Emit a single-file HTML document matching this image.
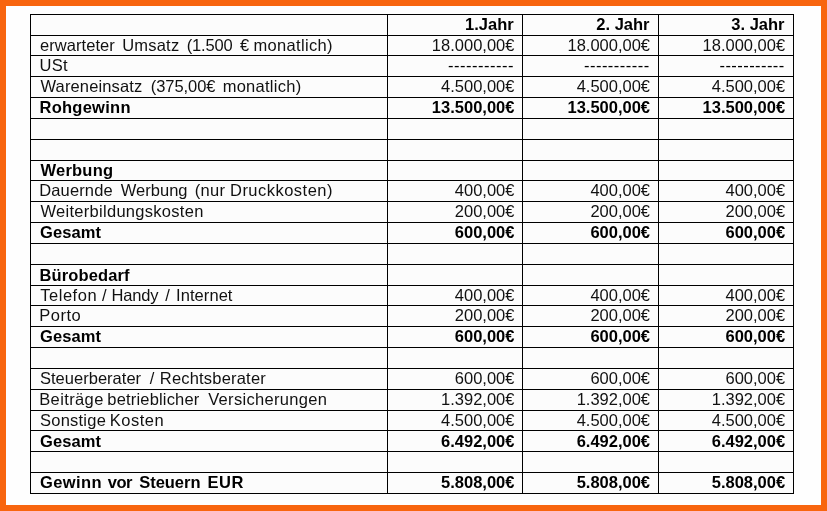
<!DOCTYPE html>
<html lang="de"><head><meta charset="utf-8"><title>Rentabilitätsvorschau</title>
<style>
html,body{margin:0;padding:0}
body{width:827px;height:511px;position:relative;overflow:hidden;background:#f8650f;font-family:"Liberation Sans",sans-serif;}
#paper{position:absolute;left:6px;top:6px;width:815px;height:499px;background:#fefefe}
#tbl{position:absolute;left:30px;top:14px;width:764px;height:480px;background:#fcfcfc}
.h,.v{position:absolute;background:#000}
.h{height:1px;left:30px;width:764px}
.v{width:1px;top:14px;height:480px}
.t{position:absolute;white-space:pre;font-size:16.5px;line-height:20px;height:20px;color:#111;}
.b{font-weight:bold;color:#000}
.d{color:#000}
</style></head><body>
<div id="paper"></div><div id="tbl"></div>

<div class="h" style="top:14px"></div>
<div class="h" style="top:35px"></div>
<div class="h" style="top:55px"></div>
<div class="h" style="top:76px"></div>
<div class="h" style="top:97px"></div>
<div class="h" style="top:118px"></div>
<div class="h" style="top:139px"></div>
<div class="h" style="top:160px"></div>
<div class="h" style="top:180px"></div>
<div class="h" style="top:201px"></div>
<div class="h" style="top:222px"></div>
<div class="h" style="top:243px"></div>
<div class="h" style="top:264px"></div>
<div class="h" style="top:285px"></div>
<div class="h" style="top:305px"></div>
<div class="h" style="top:326px"></div>
<div class="h" style="top:347px"></div>
<div class="h" style="top:368px"></div>
<div class="h" style="top:389px"></div>
<div class="h" style="top:410px"></div>
<div class="h" style="top:430px"></div>
<div class="h" style="top:451px"></div>
<div class="h" style="top:472px"></div>
<div class="h" style="top:493px"></div>
<div class="v" style="left:30px"></div>
<div class="v" style="left:387px"></div>
<div class="v" style="left:522px"></div>
<div class="v" style="left:658px"></div>
<div class="v" style="left:793px"></div>

<span class="t b" style="left:465.02px;top:14.4px">1.Jahr</span>
<span class="t b" style="left:596.34px;top:14.4px">2. Jahr</span>
<span class="t b" style="left:731.34px;top:14.4px">3. Jahr</span>
<span class="t" style="left:39.98px;top:35.4px;letter-spacing:0.058px">erwarteter</span>
<span class="t" style="left:122.17px;top:35.4px;letter-spacing:0.217px">Umsatz</span>
<span class="t" style="left:186.63px;top:35.4px;letter-spacing:-0.140px">(1.500</span>
<span class="t" style="left:240.10px;top:35.4px">€</span>
<span class="t" style="left:253.57px;top:35.4px;letter-spacing:0.308px">monatlich)</span>
<span class="t" style="left:431.87px;top:35.4px">18.000,00€</span>
<span class="t" style="left:567.47px;top:35.4px">18.000,00€</span>
<span class="t" style="left:702.57px;top:35.4px">18.000,00€</span>
<span class="t" style="left:39.47px;top:55.4px;letter-spacing:0.285px">USt</span>
<span class="t d" style="left:447.88px;top:55.4px;letter-spacing:0.527px">-----------</span>
<span class="t d" style="left:583.98px;top:55.4px;letter-spacing:0.477px">-----------</span>
<span class="t d" style="left:719.48px;top:55.4px;letter-spacing:0.437px">-----------</span>
<span class="t" style="left:40.50px;top:76.4px;letter-spacing:0.137px">Wareneinsatz</span>
<span class="t" style="left:150.83px;top:76.4px;letter-spacing:-0.073px">(375,00€</span>
<span class="t" style="left:222.67px;top:76.4px;letter-spacing:0.264px">monatlich)</span>
<span class="t" style="left:441.05px;top:76.4px">4.500,00€</span>
<span class="t" style="left:576.65px;top:76.4px">4.500,00€</span>
<span class="t" style="left:711.75px;top:76.4px">4.500,00€</span>
<span class="t b" style="left:39.47px;top:97.4px;letter-spacing:0.265px">Rohgewinn</span>
<span class="t b" style="left:431.87px;top:97.4px">13.500,00€</span>
<span class="t b" style="left:567.47px;top:97.4px">13.500,00€</span>
<span class="t b" style="left:702.57px;top:97.4px">13.500,00€</span>
<span class="t b" style="left:40.50px;top:160.4px;letter-spacing:0.228px">Werbung</span>
<span class="t" style="left:39.21px;top:180.4px;letter-spacing:0.141px">Dauernde</span>
<span class="t" style="left:120.70px;top:180.4px;letter-spacing:0.029px">Werbung</span>
<span class="t" style="left:194.63px;top:180.4px;letter-spacing:0.371px">(nur</span>
<span class="t" style="left:230.01px;top:180.4px;letter-spacing:0.477px">Druckkosten)</span>
<span class="t" style="left:454.81px;top:180.4px">400,00€</span>
<span class="t" style="left:590.41px;top:180.4px">400,00€</span>
<span class="t" style="left:725.51px;top:180.4px">400,00€</span>
<span class="t" style="left:40.50px;top:201.4px;letter-spacing:0.283px">Weiterbildungskosten</span>
<span class="t" style="left:454.81px;top:201.4px">200,00€</span>
<span class="t" style="left:590.41px;top:201.4px">200,00€</span>
<span class="t" style="left:725.51px;top:201.4px">200,00€</span>
<span class="t b" style="left:39.98px;top:222.4px;letter-spacing:0.093px">Gesamt</span>
<span class="t b" style="left:454.81px;top:222.4px">600,00€</span>
<span class="t b" style="left:590.41px;top:222.4px">600,00€</span>
<span class="t b" style="left:725.51px;top:222.4px">600,00€</span>
<span class="t b" style="left:39.47px;top:265.4px;letter-spacing:0.126px">Bürobedarf</span>
<span class="t" style="left:40.24px;top:285.4px;letter-spacing:0.530px">Telefon</span>
<span class="t" style="left:101.90px;top:285.4px">/</span>
<span class="t" style="left:111.41px;top:285.4px;letter-spacing:-0.127px">Handy</span>
<span class="t" style="left:165.30px;top:285.4px">/</span>
<span class="t" style="left:176.11px;top:285.4px;letter-spacing:0.054px">Internet</span>
<span class="t" style="left:454.81px;top:285.4px">400,00€</span>
<span class="t" style="left:590.41px;top:285.4px">400,00€</span>
<span class="t" style="left:725.51px;top:285.4px">400,00€</span>
<span class="t" style="left:39.21px;top:305.4px;letter-spacing:0.530px">Porto</span>
<span class="t" style="left:454.81px;top:305.4px">200,00€</span>
<span class="t" style="left:590.41px;top:305.4px">200,00€</span>
<span class="t" style="left:725.51px;top:305.4px">200,00€</span>
<span class="t b" style="left:39.98px;top:326.4px;letter-spacing:0.093px">Gesamt</span>
<span class="t b" style="left:454.81px;top:326.4px">600,00€</span>
<span class="t b" style="left:590.41px;top:326.4px">600,00€</span>
<span class="t b" style="left:725.51px;top:326.4px">600,00€</span>
<span class="t" style="left:39.98px;top:368.4px;letter-spacing:0.017px">Steuerberater</span>
<span class="t" style="left:149.80px;top:368.4px">/</span>
<span class="t" style="left:159.81px;top:368.4px;letter-spacing:0.195px">Rechtsberater</span>
<span class="t" style="left:454.81px;top:368.4px">600,00€</span>
<span class="t" style="left:590.41px;top:368.4px">600,00€</span>
<span class="t" style="left:725.51px;top:368.4px">600,00€</span>
<span class="t" style="left:39.21px;top:389.4px;letter-spacing:0.386px">Beiträge</span>
<span class="t" style="left:107.37px;top:389.4px;letter-spacing:0.169px">betrieblicher</span>
<span class="t" style="left:208.20px;top:389.4px;letter-spacing:0.313px">Versicherungen</span>
<span class="t" style="left:441.05px;top:389.4px">1.392,00€</span>
<span class="t" style="left:576.65px;top:389.4px">1.392,00€</span>
<span class="t" style="left:711.75px;top:389.4px">1.392,00€</span>
<span class="t" style="left:39.98px;top:410.4px;letter-spacing:0.239px">Sonstige</span>
<span class="t" style="left:109.71px;top:410.4px;letter-spacing:0.529px">Kosten</span>
<span class="t" style="left:441.05px;top:410.4px">4.500,00€</span>
<span class="t" style="left:576.65px;top:410.4px">4.500,00€</span>
<span class="t" style="left:711.75px;top:410.4px">4.500,00€</span>
<span class="t b" style="left:39.98px;top:431.4px;letter-spacing:0.093px">Gesamt</span>
<span class="t b" style="left:441.05px;top:431.4px">6.492,00€</span>
<span class="t b" style="left:576.65px;top:431.4px">6.492,00€</span>
<span class="t b" style="left:711.75px;top:431.4px">6.492,00€</span>
<span class="t b" style="left:39.98px;top:472.4px;letter-spacing:0.425px">Gewinn</span>
<span class="t b" style="left:107.70px;top:472.4px;letter-spacing:-0.421px">vor</span>
<span class="t b" style="left:139.24px;top:472.4px;letter-spacing:-0.029px">Steuern</span>
<span class="t b" style="left:207.57px;top:472.4px;letter-spacing:0.504px">EUR</span>
<span class="t b" style="left:441.05px;top:472.4px">5.808,00€</span>
<span class="t b" style="left:576.65px;top:472.4px">5.808,00€</span>
<span class="t b" style="left:711.75px;top:472.4px">5.808,00€</span>
</body></html>
